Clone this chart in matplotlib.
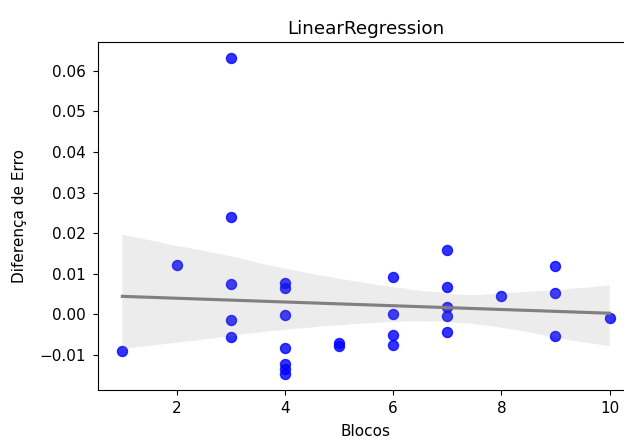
import numpy as np
import pandas as pd
import matplotlib
matplotlib.use("Agg")
import matplotlib.pyplot as plt
import seaborn as sns

blocos = [1, 2,
          3, 3, 3, 3, 3,
          4, 4, 4, 4, 4, 4, 4,
          5, 5,
          6, 6, 6, 6,
          7, 7, 7, 7, 7,
          8,
          9, 9, 9,
          10]
diferenca = [-0.0091, 0.0122,
             0.0632, 0.0241, 0.0074, -0.0014, -0.0056,
             0.0078, 0.0065, -0.0002, -0.0082, -0.0123, -0.0135, -0.0147,
             -0.0069, -0.0078,
             0.0093, 0.0000, -0.0050, -0.0076,
             0.0159, 0.0068, 0.0019, -0.0004, -0.0042,
             0.0045,
             0.0119, 0.0054, -0.0053,
             -0.0008]

df = pd.DataFrame({"Blocos": blocos, "Diferença de Erro": diferenca})

plt.rcParams["font.size"] = 11
plt.rcParams["axes.titlesize"] = 13.2
plt.rcParams["axes.labelsize"] = 11
plt.rcParams["xtick.major.pad"] = 4.5
plt.rcParams["ytick.major.pad"] = 5

fig = plt.figure(figsize=(6.24, 4.41), dpi=100)
ax = fig.add_axes([98 / 624, 51 / 441, 536 / 624, 348 / 441])

sns.regplot(data=df, x="Blocos", y="Diferença de Erro", ax=ax,
            color="blue", seed=0,
            scatter_kws={"s": 52, "alpha": 0.8},
            line_kws={"color": "gray"})

ax.set_title("LinearRegression")
ax.set_xlabel("Blocos", labelpad=6)
ax.set_ylabel("Diferença de Erro", labelpad=9)

fig.savefig("out.png", dpi=100)
